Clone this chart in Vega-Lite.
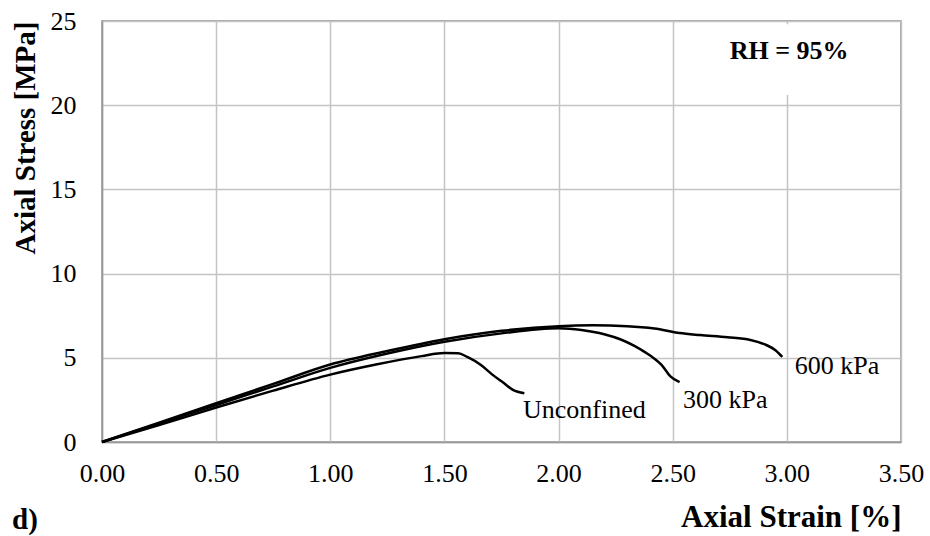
{
  "$schema": "https://vega.github.io/schema/vega-lite/v6.json",
  "width": 799,
  "height": 421,
  "autosize": "none",
  "padding": {"left": 102, "top": 21, "right": 29, "bottom": 94},
  "background": "white",
  "config": {
    "view": {"stroke": "#8c8c8c", "strokeWidth": 1.5},
    "font": "Liberation Serif"
  },
  "title": {
    "text": "d)",
    "orient": "bottom",
    "anchor": "start",
    "frame": "group",
    "font": "Liberation Serif",
    "fontSize": 29,
    "fontWeight": "bold",
    "color": "black",
    "dx": -90,
    "dy": -30
  },
  "datasets": {
    "curves": [
      {"series": "600 kPa", "strain": 0.0, "stress": 0.0},
      {"series": "600 kPa", "strain": 0.25, "stress": 1.15},
      {"series": "600 kPa", "strain": 0.5, "stress": 2.3},
      {"series": "600 kPa", "strain": 0.75, "stress": 3.45},
      {"series": "600 kPa", "strain": 1.0, "stress": 4.6},
      {"series": "600 kPa", "strain": 1.25, "stress": 5.4},
      {"series": "600 kPa", "strain": 1.5, "stress": 6.1},
      {"series": "600 kPa", "strain": 1.75, "stress": 6.6},
      {"series": "600 kPa", "strain": 2.0, "stress": 6.88},
      {"series": "600 kPa", "strain": 2.15, "stress": 6.93},
      {"series": "600 kPa", "strain": 2.3, "stress": 6.88},
      {"series": "600 kPa", "strain": 2.42, "stress": 6.74},
      {"series": "600 kPa", "strain": 2.53, "stress": 6.47},
      {"series": "600 kPa", "strain": 2.62, "stress": 6.35},
      {"series": "600 kPa", "strain": 2.74, "stress": 6.22},
      {"series": "600 kPa", "strain": 2.84, "stress": 6.06},
      {"series": "600 kPa", "strain": 2.91, "stress": 5.76},
      {"series": "600 kPa", "strain": 2.95, "stress": 5.45},
      {"series": "600 kPa", "strain": 2.98, "stress": 5.05},
      {"series": "300 kPa", "strain": 0.0, "stress": 0.0},
      {"series": "300 kPa", "strain": 0.25, "stress": 1.1},
      {"series": "300 kPa", "strain": 0.5, "stress": 2.2},
      {"series": "300 kPa", "strain": 0.75, "stress": 3.3},
      {"series": "300 kPa", "strain": 1.0, "stress": 4.4},
      {"series": "300 kPa", "strain": 1.25, "stress": 5.25},
      {"series": "300 kPa", "strain": 1.5, "stress": 5.95},
      {"series": "300 kPa", "strain": 1.75, "stress": 6.45},
      {"series": "300 kPa", "strain": 2.0, "stress": 6.75},
      {"series": "300 kPa", "strain": 2.1, "stress": 6.65},
      {"series": "300 kPa", "strain": 2.2, "stress": 6.4},
      {"series": "300 kPa", "strain": 2.27, "stress": 6.1},
      {"series": "300 kPa", "strain": 2.33, "stress": 5.72},
      {"series": "300 kPa", "strain": 2.38, "stress": 5.32},
      {"series": "300 kPa", "strain": 2.42, "stress": 4.95},
      {"series": "300 kPa", "strain": 2.45, "stress": 4.6},
      {"series": "300 kPa", "strain": 2.49, "stress": 3.9},
      {"series": "300 kPa", "strain": 2.53, "stress": 3.55},
      {"series": "Unconfined", "strain": 0.0, "stress": 0.0},
      {"series": "Unconfined", "strain": 0.25, "stress": 1.0},
      {"series": "Unconfined", "strain": 0.5, "stress": 2.05},
      {"series": "Unconfined", "strain": 0.75, "stress": 3.05},
      {"series": "Unconfined", "strain": 1.0, "stress": 4.0},
      {"series": "Unconfined", "strain": 1.2, "stress": 4.6},
      {"series": "Unconfined", "strain": 1.4, "stress": 5.1},
      {"series": "Unconfined", "strain": 1.5, "stress": 5.28},
      {"series": "Unconfined", "strain": 1.56, "stress": 5.27},
      {"series": "Unconfined", "strain": 1.6, "stress": 5.05},
      {"series": "Unconfined", "strain": 1.66, "stress": 4.57},
      {"series": "Unconfined", "strain": 1.71, "stress": 4.0},
      {"series": "Unconfined", "strain": 1.76, "stress": 3.5},
      {"series": "Unconfined", "strain": 1.8, "stress": 3.1},
      {"series": "Unconfined", "strain": 1.85, "stress": 2.9}
    ],
    "labels": [
      {"label": "600 kPa", "strain": 3.035, "stress": 4.5},
      {"label": "300 kPa", "strain": 2.545, "stress": 2.5},
      {"label": "Unconfined", "strain": 1.844, "stress": 1.9}
    ],
    "note": [
      {"label": "RH = 95%", "strain": 3.01, "stress": 23.2, "x0": 2.72, "x1": 3.3, "y0": 20.6, "y1": 24.8}
    ]
  },
  "encoding": {
    "x": {
      "field": "strain",
      "type": "quantitative",
      "scale": {"domain": [0, 3.5], "nice": false},
      "axis": {
        "values": [0, 0.5, 1, 1.5, 2, 2.5, 3, 3.5],
        "format": ".2f",
        "title": "Axial Strain [%]",
        "titleAnchor": "end",
        "titleFont": "Liberation Serif",
        "titleFontSize": 31,
        "titleFontWeight": "bold",
        "titleColor": "black",
        "titlePadding": 16,
        "labelFont": "Liberation Serif",
        "labelFontSize": 26,
        "labelColor": "black",
        "labelPadding": 18,
        "labelFlush": false,
        "labelOverlap": false,
        "ticks": false,
        "domainColor": "#999999",
        "domainWidth": 1.5,
        "grid": true,
        "gridColor": "#c4c4c4",
        "gridWidth": 1.5
      }
    },
    "y": {
      "field": "stress",
      "type": "quantitative",
      "scale": {"domain": [0, 25], "nice": false},
      "axis": {
        "values": [0, 5, 10, 15, 20, 25],
        "format": "d",
        "title": "Axial Stress [MPa]",
        "titleAnchor": "end",
        "titleFont": "Liberation Serif",
        "titleFontSize": 29,
        "titleFontWeight": "bold",
        "titleColor": "black",
        "titlePadding": 10,
        "labelFont": "Liberation Serif",
        "labelFontSize": 26,
        "labelColor": "black",
        "labelPadding": 26,
        "labelFlush": false,
        "labelOverlap": false,
        "ticks": false,
        "domainColor": "#999999",
        "domainWidth": 1.5,
        "grid": true,
        "gridColor": "#c4c4c4",
        "gridWidth": 1.5
      }
    }
  },
  "layer": [
    {
      "data": {"name": "note"},
      "mark": {"type": "rect", "fill": "white"},
      "encoding": {
        "x": {"field": "x0", "type": "quantitative"},
        "x2": {"field": "x1"},
        "y": {"field": "y0", "type": "quantitative"},
        "y2": {"field": "y1"}
      }
    },
    {
      "data": {"name": "curves"},
      "mark": {"type": "line", "color": "black", "strokeWidth": 2.5, "interpolate": "monotone"},
      "encoding": {
        "detail": {"field": "series", "type": "nominal"}
      }
    },
    {
      "data": {"name": "labels"},
      "mark": {"type": "text", "align": "left", "baseline": "middle", "font": "Liberation Serif", "fontSize": 26, "color": "black"},
      "encoding": {"text": {"field": "label"}}
    },
    {
      "data": {"name": "note"},
      "mark": {"type": "text", "align": "center", "baseline": "middle", "font": "Liberation Serif", "fontSize": 26, "fontWeight": "bold", "color": "black"},
      "encoding": {"text": {"field": "label"}}
    }
  ]
}
